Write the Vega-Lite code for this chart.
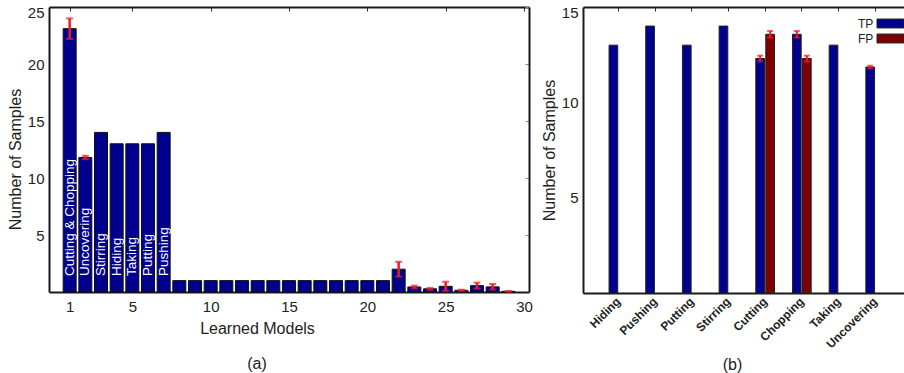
{
  "$schema": "https://vega.github.io/schema/vega-lite/v6.json",
  "padding": {"left": 7, "top": 5, "right": 0, "bottom": 0},
  "spacing": 8,
  "config": {
    "font": "Liberation Sans",
    "view": {"stroke": null},
    "axis": {
      "labelFont": "Liberation Sans",
      "titleFont": "Liberation Sans",
      "labelColor": "#222222",
      "titleColor": "#222222",
      "labelFontSize": 15,
      "titleFontSize": 16,
      "titleFontWeight": "normal",
      "grid": false,
      "domainColor": "#1a1a1a",
      "domainWidth": 2,
      "zindex": 1
    },
    "title": {"font": "Liberation Sans", "fontSize": 16, "fontWeight": "normal", "color": "#222222"}
  },
  "hconcat": [
    {
      "width": 480,
      "height": 285,
      "title": {"text": "(a)", "orient": "bottom", "anchor": "middle", "frame": "group", "dx": -32, "offset": 20},
      "data": {
        "values": [
          {"model": 1, "value": 23.1, "lo": 22.2, "hi": 24.0, "label": "Cutting & Chopping"},
          {"model": 2, "value": 11.8, "lo": 11.65, "hi": 11.95, "label": "Uncovering"},
          {"model": 3, "value": 14, "label": "Stirring"},
          {"model": 4, "value": 13, "label": "Hiding"},
          {"model": 5, "value": 13, "label": "Taking"},
          {"model": 6, "value": 13, "label": "Putting"},
          {"model": 7, "value": 14, "label": "Pushing"},
          {"model": 8, "value": 1},
          {"model": 9, "value": 1},
          {"model": 10, "value": 1},
          {"model": 11, "value": 1},
          {"model": 12, "value": 1},
          {"model": 13, "value": 1},
          {"model": 14, "value": 1},
          {"model": 15, "value": 1},
          {"model": 16, "value": 1},
          {"model": 17, "value": 1},
          {"model": 18, "value": 1},
          {"model": 19, "value": 1},
          {"model": 20, "value": 1},
          {"model": 21, "value": 1},
          {"model": 22, "value": 2.0, "lo": 1.35, "hi": 2.65},
          {"model": 23, "value": 0.44, "lo": 0.32, "hi": 0.56},
          {"model": 24, "value": 0.28, "lo": 0.2, "hi": 0.36},
          {"model": 25, "value": 0.5, "lo": 0.1, "hi": 0.9},
          {"model": 26, "value": 0.15, "lo": 0.1, "hi": 0.2},
          {"model": 27, "value": 0.56, "lo": 0.3, "hi": 0.82},
          {"model": 28, "value": 0.45, "lo": 0.22, "hi": 0.7},
          {"model": 29, "value": 0.06, "lo": 0.03, "hi": 0.09}
        ]
      },
      "resolve": {"axis": {"x": "independent", "y": "independent"}},
      "layer": [
        {
          "mark": {"type": "bar", "size": 13, "fill": "#00008f", "stroke": "#111111", "strokeWidth": 1},
          "encoding": {
            "x": {
              "field": "model", "type": "quantitative",
              "scale": {"domain": [0, 30], "nice": false, "zero": false},
              "axis": {"title": "Learned Models", "values": [1, 5, 10, 15, 20, 25, 30], "ticks": false, "labelPadding": 7, "titlePadding": 6, "titleX": 208, "labelFlush": false}
            },
            "y": {
              "field": "value", "type": "quantitative",
              "scale": {"domain": [0, 25], "nice": false},
              "axis": {"title": "Number of Samples", "values": [5, 10, 15, 20, 25], "ticks": false, "labelPadding": 5, "titlePadding": 4, "labelFlush": true, "labelFlushOffset": 2, "titleY": 152}
            }
          }
        },
        {
          "transform": [{"filter": "isValid(datum.lo)"}],
          "mark": {"type": "errorbar", "color": "#ee1c25", "ticks": {"size": 7, "thickness": 2, "color": "#ee1c25"}, "rule": {"strokeWidth": 2.5, "color": "#ee1c25"}},
          "encoding": {
            "x": {"field": "model", "type": "quantitative", "axis": null},
            "y": {"field": "lo", "type": "quantitative", "axis": null},
            "y2": {"field": "hi"}
          }
        },
        {
          "transform": [{"filter": "isValid(datum.label)"}],
          "mark": {"type": "text", "angle": 270, "align": "left", "baseline": "middle", "dx": 16, "fontSize": 13.5, "color": "white"},
          "encoding": {
            "x": {"field": "model", "type": "quantitative", "axis": null},
            "y": {"datum": 0, "type": "quantitative", "axis": null},
            "text": {"field": "label"}
          }
        },
        {
          "mark": {"type": "point", "opacity": 0},
          "encoding": {
            "x": {"field": "model", "type": "quantitative", "axis": {"orient": "top", "values": [1, 5, 10, 15, 20, 25, 30], "labels": false, "title": null, "tickSize": -4, "tickColor": "#333333"}},
            "y": {"field": "value", "type": "quantitative", "axis": {"orient": "right", "values": [5, 10, 15, 20, 25], "labels": false, "title": null, "tickSize": -4, "tickColor": "#888888"}}
          }
        }
      ]
    },
    {
      "width": 321,
      "height": 286,
      "title": {"text": "(b)", "orient": "bottom", "anchor": "middle", "frame": "group", "dx": -11, "offset": 7},
      "data": {
        "values": [
          {"action": "Hiding", "type": "TP", "value": 13},
          {"action": "Pushing", "type": "TP", "value": 14},
          {"action": "Putting", "type": "TP", "value": 13},
          {"action": "Stirring", "type": "TP", "value": 14},
          {"action": "Cutting", "type": "TP", "value": 12.3, "lo": 12.15, "hi": 12.45},
          {"action": "Cutting", "type": "FP", "value": 13.57, "lo": 13.4, "hi": 13.74},
          {"action": "Chopping", "type": "TP", "value": 13.57, "lo": 13.4, "hi": 13.74},
          {"action": "Chopping", "type": "FP", "value": 12.3, "lo": 12.15, "hi": 12.45},
          {"action": "Taking", "type": "TP", "value": 13},
          {"action": "Uncovering", "type": "TP", "value": 11.85, "lo": 11.78, "hi": 11.92}
        ]
      },
      "resolve": {"axis": {"x": "independent"}},
      "layer": [
        {
          "mark": {"type": "bar", "stroke": "#222222", "strokeWidth": 1},
          "encoding": {
            "x": {
              "field": "action", "type": "nominal",
              "sort": ["Hiding", "Pushing", "Putting", "Stirring", "Cutting", "Chopping", "Taking", "Uncovering"],
              "scale": {"paddingInner": 0, "paddingOuter": 0.375, "align": 0.62},
              "axis": {"title": null, "labelAngle": -45, "labelAlign": "right", "labelBaseline": "middle", "labelFontSize": 12, "labelFontWeight": "bold", "ticks": false, "labelPadding": 6}
            },
            "xOffset": {"field": "type", "type": "nominal", "sort": ["TP", "FP"], "scale": {"paddingInner": 0.13, "paddingOuter": 0.9}},
            "y": {
              "field": "value", "type": "quantitative",
              "scale": {"domain": [0, 15], "nice": false},
              "axis": {"title": "Number of Samples", "values": [5, 10, 15], "ticks": false, "labelPadding": 5, "titlePadding": 4, "labelFlush": true, "labelFlushOffset": 2}
            },
            "color": {
              "field": "type", "type": "nominal",
              "scale": {"domain": ["TP", "FP"], "range": ["#00008f", "#7d0000"]},
              "legend": {
                "title": null, "orient": "none", "legendX": 834, "legendY": 9, "padding": 0,
                "symbolType": "M-2,-0.66L2,-0.66L2,0.66L-2,0.66Z", "symbolSize": 182.25,
                "symbolStrokeColor": "#222222", "symbolStrokeWidth": 1, "symbolOpacity": 1,
                "labelAlign": "right", "labelOffset": -24.75, "labelFontSize": 12, "labelColor": "#222222", "labelFont": "Liberation Sans",
                "rowPadding": 1
              }
            }
          }
        },
        {
          "transform": [{"filter": "isValid(datum.lo)"}],
          "mark": {"type": "errorbar", "color": "#ee1c25", "ticks": {"size": 6, "thickness": 2, "color": "#ee1c25"}, "rule": {"strokeWidth": 2, "color": "#ee1c25"}},
          "encoding": {
            "x": {"field": "action", "type": "nominal", "sort": ["Hiding", "Pushing", "Putting", "Stirring", "Cutting", "Chopping", "Taking", "Uncovering"], "axis": null},
            "xOffset": {"field": "type", "type": "nominal", "sort": ["TP", "FP"]},
            "y": {"field": "lo", "type": "quantitative", "title": "Number of Samples"},
            "y2": {"field": "hi"}
          }
        },
        {
          "mark": {"type": "tick", "opacity": 0},
          "encoding": {
            "x": {"field": "action", "type": "nominal", "sort": ["Hiding", "Pushing", "Putting", "Stirring", "Cutting", "Chopping", "Taking", "Uncovering"], "axis": {"orient": "top", "labels": false, "title": null, "tickSize": -4, "tickColor": "#333333"}}
          }
        }
      ]
    }
  ]
}
